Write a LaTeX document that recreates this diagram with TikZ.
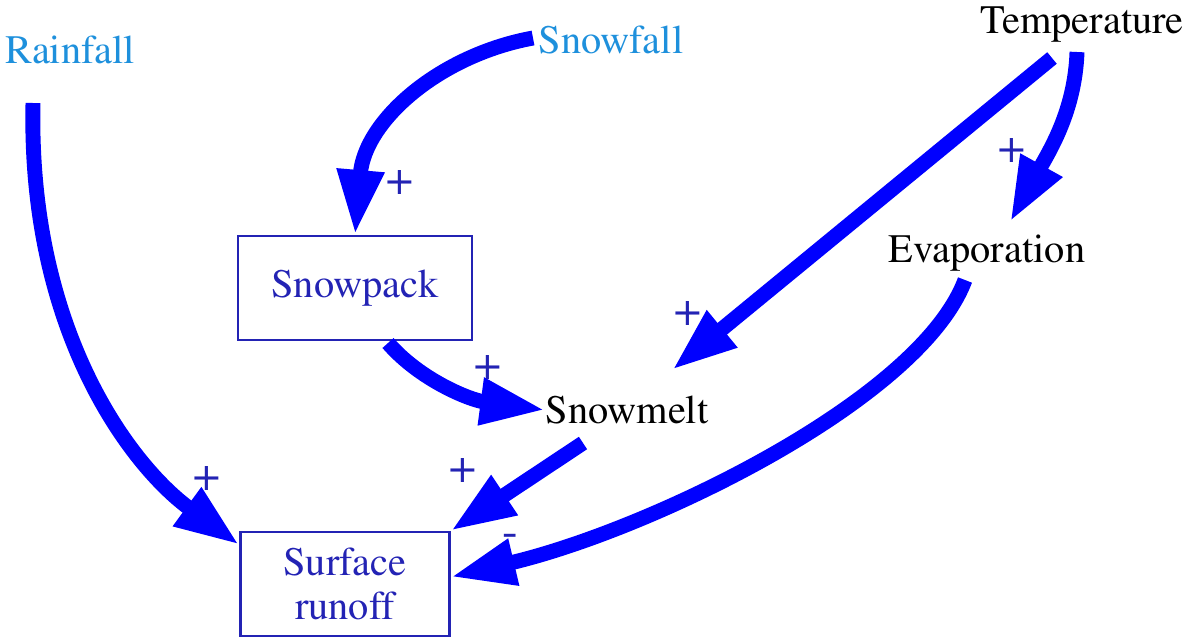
\documentclass[tikz,border=0pt]{standalone}
\usepackage[T1]{fontenc}
\usepackage{times}
\usepackage{tikz}
\usetikzlibrary{arrows.meta}

\definecolor{inputblue}{RGB}{30,144,220}
\definecolor{boxblue}{RGB}{35,35,180}

\begin{document}
\begin{tikzpicture}[x=0.02cm, y=-0.02cm,
    every node/.style={font=\rmfamily\fontsize{23}{25}\selectfont, inner sep=0pt},
    stock/.style={draw=boxblue, line width=1.2pt, text=boxblue, minimum height=2.08cm, align=center},
    link/.style={blue, line width=8.5pt, -{Triangle[length=37pt, width=25pt]}},
    sign/.style={text=boxblue, font=\rmfamily\fontsize{27}{27}\selectfont}]
    \useasboundingbox (0,0) rectangle (1192,637);

    % Variables
    \node[text=inputblue] (rain) at (70,50) {Rainfall};
    \node[text=inputblue] (snow) at (611,40) {Snowfall};
    \node (temp) at (1082,25) {Temperature};
    \node (evap) at (987,253) {Evaporation};
    \node (melt) at (627,410) {Snowmelt};

    % Stocks
    \node[stock, minimum width=4.68cm] (pack) at (355,288) {Snowpack};
    \node[stock, minimum width=4.18cm] (runoff) at (345,584) {Surface\\runoff};

    % Rainfall -> runoff
    \draw[link] ([shift={(-37,53)}]rain.center) .. controls (28,330) and (130,465) .. ([shift={(0,14)}]runoff.north west);
    \node[sign] at (207,478) {+};

    % Snowfall -> Snowpack
    \draw[link] ([shift={(-78,-2)}]snow.center) .. controls (440,55) and (365,120) .. (pack.north);
    \node[sign] at (400,182) {+};

    % Snowpack -> Snowmelt
    \draw[link] ([shift={(33,55)}]pack.center) .. controls (420,380) and (470,400) .. (melt.west);
    \node[sign] at (488,367) {+};

    % Temperature -> Snowmelt
    \draw[link] ([shift={(-30,33)}]temp.center) -- ([shift={(45,-40)}]melt.center);
    \node[sign] at (688,313) {+};

    % Temperature -> Evaporation
    \draw[link] ([shift={(-5,27)}]temp.center) .. controls (1075,110) and (1050,150) .. ([shift={(23,-31)}]evap.center);
    \node[sign] at (1012,150) {+};

    % Snowmelt -> runoff
    \draw[link] ([shift={(-44,33)}]melt.center) -- (runoff.north east);
    \node[sign] at (463,470) {+};

    % Evaporation -> runoff
    \draw[link] ([shift={(-22,27)}]evap.center) .. controls (920,400) and (650,530) .. ([shift={(0,-7)}]runoff.east);
    \node[sign] at (510,540) {-};

\end{tikzpicture}
\end{document}
